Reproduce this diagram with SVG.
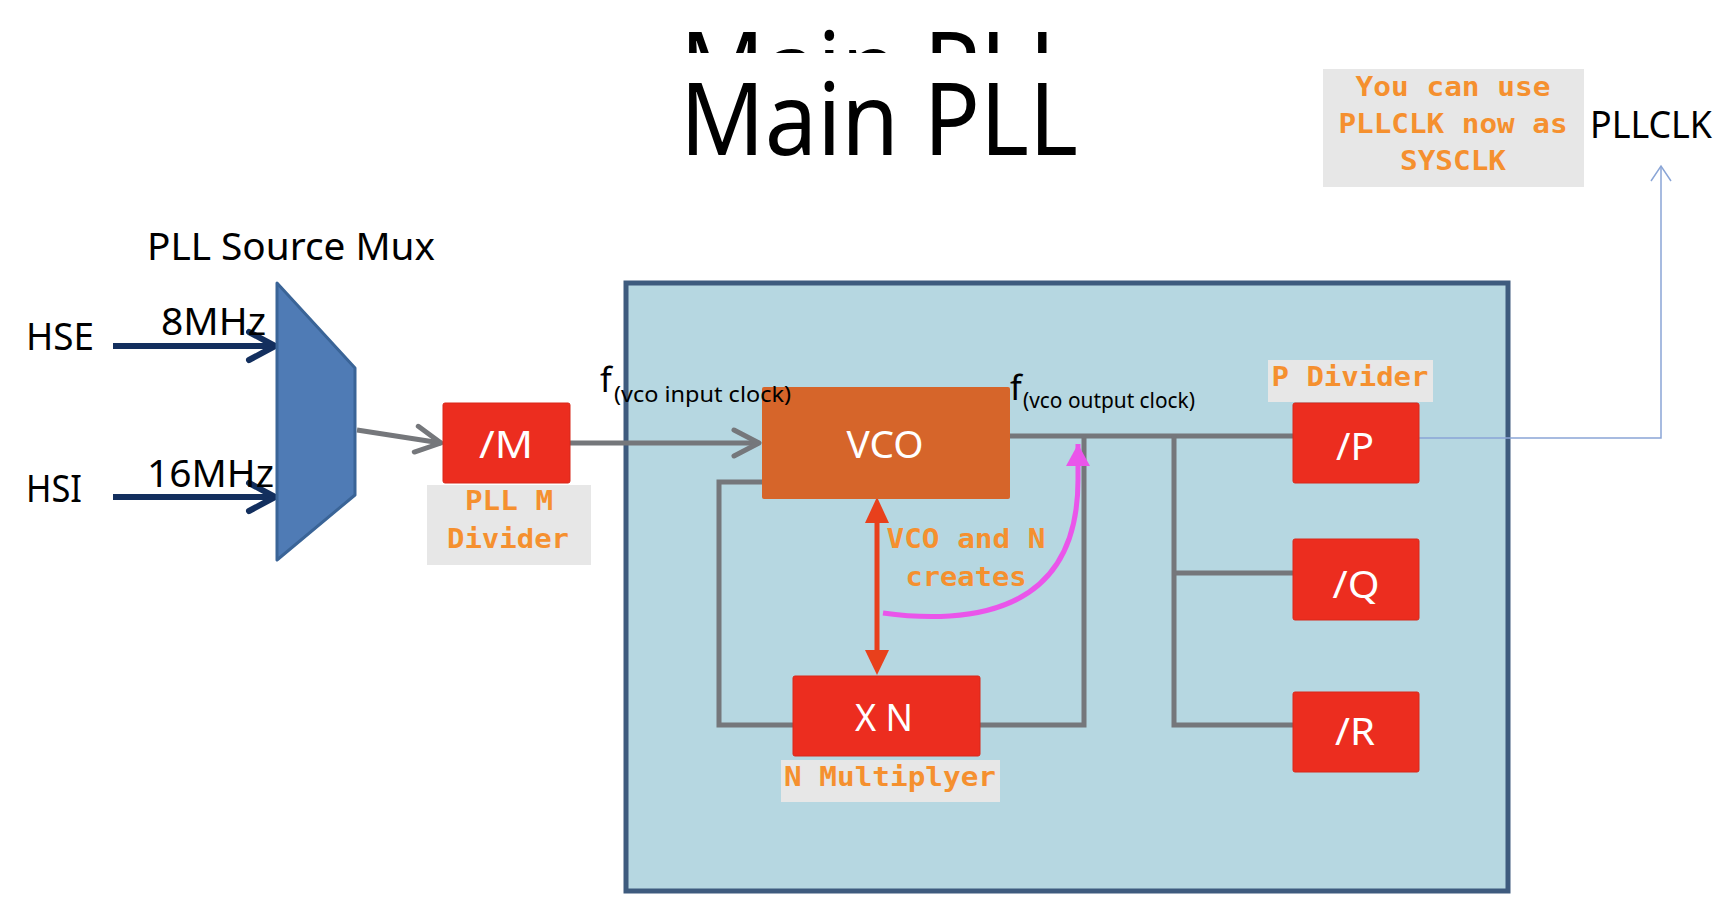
<svg xmlns="http://www.w3.org/2000/svg" width="1730" height="920" viewBox="0 0 1730 920">
<defs>
<style>
.sans{font-family:"Noto Sans","Liberation Sans",sans-serif;fill:#000}
.mono{font-family:"DejaVu Sans Mono","Liberation Mono",monospace;font-weight:bold;fill:#f5902f;font-size:27px;text-anchor:middle}
.wt{font-family:"Noto Sans","Liberation Sans",sans-serif;fill:#fff;font-size:38px;text-anchor:middle}
.red{fill:#ec2d1f;stroke:#d8281a;stroke-width:1}
.lbl{fill:#e7e7e7}
.gray{fill:none;stroke:#75777b;stroke-width:5}
.navy{fill:none;stroke:#132f5e;stroke-width:6}
</style>
<marker id="chevNavy" markerUnits="userSpaceOnUse" viewBox="-32 -20 38 40" markerWidth="38" markerHeight="40" refX="0" refY="0" orient="auto">
<path d="M-26,-14 L0,0 L-26,14" fill="none" stroke="#132f5e" stroke-width="6" stroke-linecap="round" stroke-linejoin="round"/>
</marker>
<marker id="chevGray" markerUnits="userSpaceOnUse" viewBox="-32 -20 38 40" markerWidth="38" markerHeight="40" refX="0" refY="0" orient="auto">
<path d="M-25,-13 L0,0 L-25,13" fill="none" stroke="#75777b" stroke-width="5" stroke-linecap="round" stroke-linejoin="round"/>
</marker>
<marker id="chevBlue" markerUnits="userSpaceOnUse" viewBox="-20 -14 24 28" markerWidth="24" markerHeight="28" refX="0" refY="0" orient="auto">
<path d="M-15,-10 L0,0 L-15,10" fill="none" stroke="#8aa5d6" stroke-width="1.5"/>
</marker>
<marker id="triMag" markerUnits="userSpaceOnUse" viewBox="-28 -14 30 28" markerWidth="30" markerHeight="28" refX="0" refY="0" orient="auto">
<path d="M-22,-12 L0,0 L-22,12 Z" fill="#ea55ea"/>
</marker>
<clipPath id="topClip"><rect x="0" y="0" width="1730" height="53"/></clipPath>
</defs>
<rect width="1730" height="920" fill="#fff"/>

<g id="title">
<text class="sans" x="680" y="104" font-size="100" textLength="398" lengthAdjust="spacingAndGlyphs" clip-path="url(#topClip)">Main PLL</text>
<text class="sans" x="680" y="155" font-size="100" textLength="398" lengthAdjust="spacingAndGlyphs">Main PLL</text>
</g>

<g id="pll-box">
<rect x="626" y="283" width="882" height="608" fill="#b6d7e1" stroke="#3e5b7e" stroke-width="5"/>
</g>

<g id="connectors">
<line class="navy" x1="113" y1="346" x2="275" y2="346" marker-end="url(#chevNavy)"/>
<line class="navy" x1="113" y1="497" x2="275" y2="497" marker-end="url(#chevNavy)"/>
<line class="gray" x1="357" y1="430" x2="441" y2="443" marker-end="url(#chevGray)"/>
<line class="gray" x1="570" y1="443" x2="759" y2="443" marker-end="url(#chevGray)"/>
<polyline class="gray" points="762,482 719,482 719,725 793,725"/>
<polyline class="gray" points="980,725 1084,725 1084,436"/>
<line class="gray" x1="1010" y1="436" x2="1293" y2="436"/>
<polyline class="gray" points="1174,436 1174,725 1293,725"/>
<line class="gray" x1="1174" y1="573" x2="1293" y2="573"/>
<polyline points="1419,438 1661,438 1661,166" fill="none" stroke="#8aa5d6" stroke-width="1.5" marker-end="url(#chevBlue)"/>
<g id="vco-n-link" fill="#e8401c">
<line x1="877" y1="518" x2="877" y2="655" stroke="#e8401c" stroke-width="5"/>
<path d="M877,497 L865,523 L889,523 Z"/>
<path d="M877,675 L865,650 L889,650 Z"/>
</g>
<path d="M883,613 Q918,618 950,616 C1040,610 1078,560 1078,480 L1078,444" fill="none" stroke="#ea55ea" stroke-width="5" marker-end="url(#triMag)"/>
</g>

<g id="mux">
<path d="M277,283 L355,368 L355,495 L277,560 Z" fill="#4f7bb5" stroke="#3a6497" stroke-width="3" stroke-linejoin="round"/>
<text class="sans" x="147" y="260" font-size="38" textLength="288" lengthAdjust="spacingAndGlyphs">PLL Source Mux</text>
</g>

<g id="hse">
<text class="sans" x="26" y="350" font-size="38" textLength="68" lengthAdjust="spacingAndGlyphs">HSE</text>
<text class="sans" x="161" y="335" font-size="38" textLength="105" lengthAdjust="spacingAndGlyphs">8MHz</text>
</g>

<g id="hsi">
<text class="sans" x="26" y="502" font-size="38" textLength="56" lengthAdjust="spacingAndGlyphs">HSI</text>
<text class="sans" x="147" y="487" font-size="38" textLength="127" lengthAdjust="spacingAndGlyphs">16MHz</text>
</g>

<g id="m-divider">
<rect class="red" x="443" y="403" width="127" height="80" rx="2"/>
<text class="wt" x="506" y="458" textLength="54" lengthAdjust="spacingAndGlyphs">/M</text>
<rect class="lbl" x="427" y="485" width="164" height="80"/>
<text class="mono" x="509" y="510" textLength="88" lengthAdjust="spacingAndGlyphs">PLL M</text>
<text class="mono" x="508" y="548" textLength="122" lengthAdjust="spacingAndGlyphs">Divider</text>
</g>

<g id="vco">
<rect x="762" y="387" width="248" height="112" rx="2" fill="#d6652a"/>
<text class="wt" x="885" y="458" textLength="77" lengthAdjust="spacingAndGlyphs">VCO</text>
</g>

<g id="vco-input-label">
<text class="sans" x="600" y="392" font-size="34">f</text>
<text class="sans" x="614" y="402" font-size="22" textLength="177" lengthAdjust="spacingAndGlyphs">(vco input clock)</text>
</g>

<g id="vco-output-label">
<text class="sans" x="1010" y="400" font-size="34">f</text>
<text class="sans" x="1023" y="408" font-size="22" textLength="172" lengthAdjust="spacingAndGlyphs">(vco output clock)</text>
</g>

<g id="n-multiplier">
<rect class="red" x="793" y="676" width="187" height="80" rx="2"/>
<text class="wt" x="884" y="731" textLength="58" lengthAdjust="spacingAndGlyphs">X N</text>
<rect class="lbl" x="781" y="760" width="219" height="42"/>
<text class="mono" x="890" y="786" textLength="212" lengthAdjust="spacingAndGlyphs">N Multiplyer</text>
</g>

<g id="vco-n-note">
<text class="mono" x="966" y="548" textLength="159" lengthAdjust="spacingAndGlyphs">VCO and N</text>
<text class="mono" x="966" y="586" textLength="121" lengthAdjust="spacingAndGlyphs">creates</text>
</g>

<g id="p-divider">
<rect class="lbl" x="1268" y="360" width="165" height="42"/>
<text class="mono" x="1350" y="386" textLength="157" lengthAdjust="spacingAndGlyphs">P Divider</text>
<rect class="red" x="1293" y="403" width="126" height="80" rx="2"/>
<text class="wt" x="1355" y="460" textLength="38" lengthAdjust="spacingAndGlyphs">/P</text>
</g>

<g id="q-divider">
<rect class="red" x="1293" y="539" width="126" height="81" rx="2"/>
<text class="wt" x="1356" y="598" textLength="47" lengthAdjust="spacingAndGlyphs">/Q</text>
</g>

<g id="r-divider">
<rect class="red" x="1293" y="692" width="126" height="80" rx="2"/>
<text class="wt" x="1355" y="745" textLength="40" lengthAdjust="spacingAndGlyphs">/R</text>
</g>

<g id="sysclk-note">
<rect class="lbl" x="1323" y="69" width="261" height="118"/>
<text class="mono" x="1453" y="96" textLength="195" lengthAdjust="spacingAndGlyphs">You can use</text>
<text class="mono" x="1453" y="133" textLength="229" lengthAdjust="spacingAndGlyphs">PLLCLK now as</text>
<text class="mono" x="1453" y="170" textLength="106" lengthAdjust="spacingAndGlyphs">SYSCLK</text>
</g>

<g id="pllclk">
<text class="sans" x="1590" y="138" font-size="39" textLength="122" lengthAdjust="spacingAndGlyphs">PLLCLK</text>
</g>
</svg>
